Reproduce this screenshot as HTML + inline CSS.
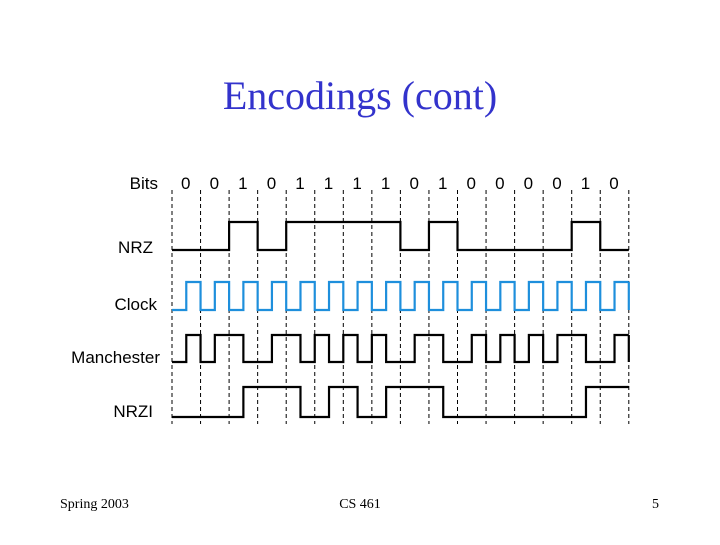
<!DOCTYPE html>
<html><head><style>
body{margin:0;background:#fff;width:720px;height:540px;overflow:hidden}
</style></head><body>
<svg id="s" width="720" height="540" xmlns="http://www.w3.org/2000/svg">
<text x="360" y="109" text-anchor="middle" font-family="Liberation Serif, serif" font-size="40" fill="#3333cc">Encodings (cont)</text>
<g font-family="Liberation Sans, sans-serif" font-size="17" fill="#000" text-anchor="end">
<text x="158" y="189">Bits</text>
<text x="153" y="253">NRZ</text>
<text x="157" y="310">Clock</text>
<text x="160" y="363">Manchester</text>
<text x="153" y="417">NRZI</text>
</g>
<g font-family="Liberation Serif, serif" font-size="14" fill="#000">
<text x="60" y="508">Spring 2003</text>
<text x="360" y="508" text-anchor="middle">CS 461</text>
<text x="652" y="508">5</text>
</g>
</svg>
<script>
var s=document.getElementById('s'),NS='http://www.w3.org/2000/svg';
var bits=[0,0,1,0,1,1,1,1,0,1,0,0,0,0,1,0];
var x0=172,w=28.55;
function X(i){return x0+w*i;}
function add(tag,a,txt){var e=document.createElementNS(NS,tag);for(var k in a)e.setAttribute(k,a[k]);if(txt!==undefined)e.textContent=txt;s.appendChild(e);return e;}
for(var i=0;i<=16;i++)add('line',{x1:X(i),y1:190,x2:X(i),y2:424,stroke:'#000','stroke-width':1,'stroke-dasharray':'4,3'});
for(var i=0;i<16;i++)add('text',{x:X(i)+w/2-0.5,y:189,'text-anchor':'middle','font-family':'Liberation Sans, sans-serif','font-size':17},bits[i]);
function wave(levels,hi,lo,col){
 var d='',prev=null;
 for(var j=0;j<levels.length;j++){var xa=x0+w/2*j,y=levels[j]?hi:lo;
  if(prev===null)d+='M'+xa+' '+y;else d+=' L'+xa+' '+y;
  d+=' L'+(xa+w/2)+' '+y;prev=y;}
 add('path',{d:d,fill:'none',stroke:col,'stroke-width':2.2});
}
var nrz=[],clk=[],man=[],nrzi=[],cur=0;
for(var i=0;i<16;i++){nrz.push(bits[i],bits[i]);clk.push(0,1);man.push(bits[i]^0,bits[i]^1);
 var a=cur;if(bits[i])cur^=1;nrzi.push(a,cur);}
wave(nrz,222,250,'#000');
wave(clk,282,310,'#1e8fdc');
wave(man,335,362,'#000');
wave(nrzi,387,417,'#000');
add('line',{x1:X(16),y1:282,x2:X(16),y2:310,stroke:'#1e8fdc','stroke-width':2.2});
add('line',{x1:X(16),y1:335,x2:X(16),y2:362,stroke:'#000','stroke-width':2.2});
</script>
</body></html>
